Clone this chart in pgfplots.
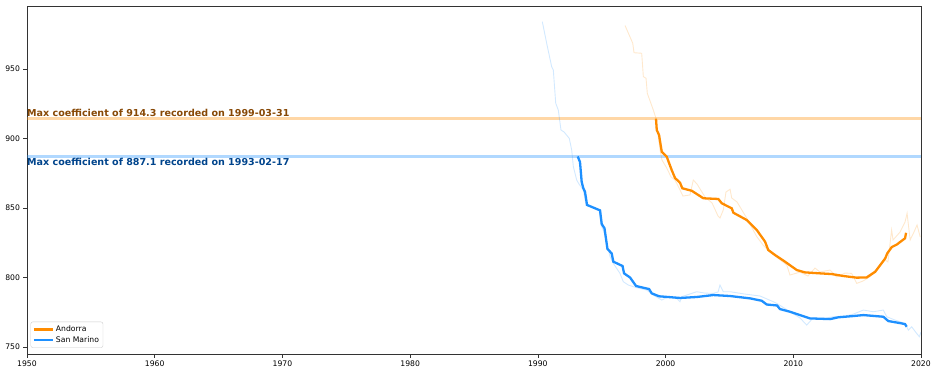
\documentclass[border=0pt]{standalone}
\usepackage{pgfplots}
\pgfplotsset{compat=1.18}
\usepackage{fontspec}
\setmainfont{DejaVu Sans}
\definecolor{andorra}{RGB}{255,140,0}
\definecolor{sanmarino}{RGB}{30,144,255}
\definecolor{andtxt}{RGB}{135,72,5}
\definecolor{samtxt}{RGB}{0,68,140}
\begin{document}
\begin{tikzpicture}
\begin{axis}[
  scale only axis, width=894bp, height=348bp,
  at={(0,0)}, anchor=south west,
  xmin=1950, xmax=2020, ymin=745, ymax=995.3,
  xtick={1950,1960,...,2020}, ytick={750,800,...,950},
  xticklabel style={/pgf/number format/1000 sep={}},
  /pgf/number format/assume math mode=true,
  tick label style={font=\fontsize{7.7}{9}\selectfont},
  tick align=outside, xtick pos=left, ytick pos=left,
  major tick length=3.5bp,
  axis line style={black!80, line width=0.6bp},
  every tick/.style={black!80, line width=0.6bp},
  legend style={at={(0.004,0.018)}, anchor=south west, font=\fontsize{7.7}{9}\selectfont,
    draw=black!20, rounded corners=2bp, inner sep=2bp, row sep=-1bp},
  legend cell align=left,
  legend image code/.code={\draw[#1, line width=2.2bp] (0bp,0bp) -- (19bp,0bp);},
]
% max lines
\addplot[andorra, opacity=0.35, line width=2.5bp, forget plot] coordinates {(1950,914.3) (2020,914.3)};
\addplot[sanmarino, opacity=0.35, line width=2.5bp, forget plot] coordinates {(1950,887.1) (2020,887.1)};
% raw Andorra
\addplot[andorra, opacity=0.2, line width=0.9bp, forget plot] coordinates {
(1996.83,981.2) (1997.43,968.5) (1997.53,961.7) (1998.13,961.3) (1998.26,944.5) (1998.47,943.3)
(1998.57,932.5) (1999.04,920.5) (1999.25,914.5) (1999.43,901.3) (1999.57,891.7) (1999.72,884.5)
(2000.09,878.8) (2000.43,872.3) (2000.74,870.1) (2001.13,863.0) (2001.36,858.6) (2001.91,859.4)
(2002.17,870.1) (2002.46,867.3) (2003.09,857.9) (2003.64,853.6) (2004.11,844.2) (2004.26,842.8)
(2004.52,848.6) (2004.73,861.5) (2005.05,863.5) (2005.18,857.2) (2005.60,854.3) (2006.35,842.8)
(2007.14,829.4) (2007.63,823.4) (2008.18,818.3) (2009.49,809.0) (2009.74,801.8) (2010.53,803.9)
(2011.15,801.1) (2011.70,806.8) (2012.09,804.0) (2012.88,805.4) (2013.40,800.4) (2014.05,803.2)
(2014.57,803.0) (2014.97,795.8) (2015.46,797.5) (2016.01,800.6) (2016.48,805.4) (2017.18,812.6)
(2017.41,811.2) (2017.70,834.2) (2017.81,827.0) (2018.36,832.7) (2018.75,839.9) (2018.91,846.2)
(2019.15,827.0) (2019.45,832.7) (2019.69,837.8) (2019.94,829.1)
};
% raw San Marino
\addplot[sanmarino, opacity=0.2, line width=0.9bp, forget plot] coordinates {
(1990.35,984.0) (1990.69,968.5) (1991.08,951.7) (1991.21,949.3) (1991.40,925.3) (1991.60,920.5)
(1991.81,906.1) (1992.05,904.7) (1992.46,900.1) (1992.65,891.7) (1992.78,879.7) (1993.04,870.1)
(1993.22,867.3) (1993.56,863.0) (1993.77,852.2) (1994.79,848.6) (1994.95,837.8) (1995.18,832.7)
(1995.39,824.6) (1995.65,815.0) (1995.91,810.2) (1996.43,803.0) (1996.69,797.0) (1997.08,794.6)
(1997.74,792.7) (1998.52,791.0) (1999.04,787.4) (1999.70,783.8) (2000.22,786.2) (2000.87,785.0)
(2001.13,782.6) (2001.26,786.2) (2002.44,789.8) (2003.09,788.8) (2003.74,788.6) (2004.11,789.6)
(2004.26,794.6) (2004.52,789.8) (2005.05,789.8) (2006.22,788.1) (2007.40,786.7) (2008.44,782.6)
(2008.80,780.9) (2009.74,775.4) (2010.53,770.9) (2011.05,765.8) (2011.55,770.9) (2012.09,770.1)
(2013.13,771.8) (2014.05,772.3) (2014.70,773.7) (2015.49,776.6) (2016.27,775.4) (2017.05,776.6)
(2017.32,771.8) (2017.97,769.4) (2018.75,767.0) (2019.01,762.2) (2019.27,764.6) (2019.66,759.8)
(2019.87,757.4) (2020.0,760.8)
};
% smoothed Andorra
\addplot[andorra, line width=2.3bp] coordinates {
(1999.25,914.3) (1999.31,906.1) (1999.49,902.5) (1999.70,890.5) (2000.09,886.9) (2000.48,877.3)
(2000.74,871.6) (2001.13,868.2) (2001.31,864.2) (2002.05,862.4) (2002.96,857.0) (2004.13,856.5)
(2004.40,853.4) (2005.18,849.8) (2005.31,846.6) (2006.35,841.4) (2007.14,834.2) (2007.79,825.8)
(2008.04,819.8) (2008.57,816.2) (2009.35,811.4) (2010.27,805.4) (2010.92,803.7) (2012.09,803.0)
(2013.01,802.5) (2013.92,801.1) (2014.97,799.9) (2015.75,800.1) (2016.42,804.2) (2016.81,809.0)
(2017.20,813.8) (2017.36,817.4) (2017.71,821.9) (2018.10,823.7) (2018.75,828.2) (2018.83,832.2)
};
\addlegendentry{Andorra}
% smoothed San Marino
\addplot[sanmarino, line width=2.3bp] coordinates {
(1993.12,887.1) (1993.30,883.1) (1993.43,868.9) (1993.56,864.2) (1993.69,861.7) (1993.85,852.2)
(1994.87,848.3) (1995.00,838.5) (1995.22,835.4) (1995.45,820.5) (1995.78,817.4) (1995.91,811.4)
(1996.63,808.3) (1996.75,803.0) (1997.22,800.0) (1997.69,793.9) (1998.71,791.7) (1998.92,788.6)
(1999.49,786.5) (2001.14,785.3) (2002.44,786.0) (2003.74,787.4) (2005.05,786.7) (2006.62,785.0)
(2007.53,783.3) (2007.92,780.6) (2008.73,779.9) (2008.96,777.3) (2009.74,775.4) (2010.53,773.0)
(2011.31,770.6) (2012.88,770.1) (2013.53,771.4) (2014.70,772.3) (2015.49,773.0) (2017.05,771.8)
(2017.44,768.7) (2018.49,767.0) (2018.75,766.5) (2018.88,764.6)
};
\addlegendentry{San Marino}
\node[anchor=south west, inner sep=0pt, yshift=2bp, text=andtxt, font=\bfseries\fontsize{9.6}{11}\selectfont] at (axis cs:1950,914.3) {Max coefficient of 914.3 recorded on 1999-03-31};
\node[anchor=north west, inner sep=0pt, yshift=-2bp, text=samtxt, font=\bfseries\fontsize{9.6}{11}\selectfont] at (axis cs:1950,887.1) {Max coefficient of 887.1 recorded on 1993-02-17};
\end{axis}
\pgfresetboundingbox
\path (-27bp,-20bp) rectangle (910bp,354bp);
\end{tikzpicture}
\end{document}
